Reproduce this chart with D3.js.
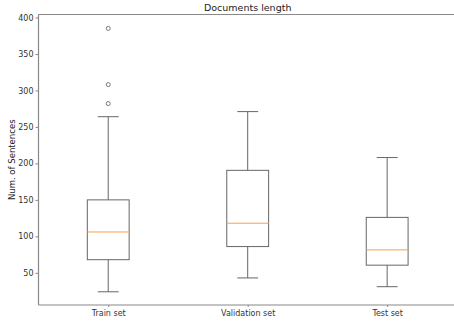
<!DOCTYPE html>
<html lang="en">
<head>
<meta charset="utf-8">
<title>Documents length</title>
<script src="https://d3js.org/d3.v7.min.js"></script>
<style>
  body { margin: 0; background: #fff; }
  text { font-family: "DejaVu Sans", sans-serif; }
  .tick text { fill: #333; font-size: 8px; }
  .tick line { stroke: #888; }
</style>
</head>
<body>
<div id="vis"></div>
<script>
// data
const sets = ["Train set", "Validation set", "Test set"];
const whiskerLow = [24, 43, 31];
const q1 = [68, 86, 60.5];
const median = [106, 118, 81.5];
const q3 = [150, 190.5, 126];
const whiskerHigh = [264, 271, 208];
const outliers = [[282, 308, 385], [], []];
const yTicks = [50, 100, 150, 200, 250, 300, 350, 400];

const width = 454, height = 322;
const plotLeft = 38.5, plotTop = 14.5, plotBottom = 305;

const boxes = sets.map((s, i) => ({
  name: s, pos: i + 1,
  lo: whiskerLow[i], q1: q1[i], med: median[i], q3: q3[i], hi: whiskerHigh[i],
  out: outliers[i]
}));

const x = d3.scaleLinear().domain([0.5, 3.5]).range([plotLeft, 456.9]);
const y = d3.scaleLinear().domain([5.9, 404.1]).range([plotBottom, plotTop]);

const svg = d3.select("#vis").append("svg")
  .attr("width", width).attr("height", height);

const boxW = x(1.15) - x(0.85);
const capW = boxW / 2;
const lineCol = "#666";

const g = svg.selectAll(".box").data(boxes).enter().append("g").attr("class", "box");

// whiskers
g.append("line")
  .attr("x1", d => x(d.pos)).attr("x2", d => x(d.pos))
  .attr("y1", d => y(d.lo)).attr("y2", d => y(d.q1))
  .attr("stroke", lineCol);
g.append("line")
  .attr("x1", d => x(d.pos)).attr("x2", d => x(d.pos))
  .attr("y1", d => y(d.q3)).attr("y2", d => y(d.hi))
  .attr("stroke", lineCol);
// caps
g.append("line")
  .attr("x1", d => x(d.pos) - capW / 2).attr("x2", d => x(d.pos) + capW / 2)
  .attr("y1", d => y(d.lo)).attr("y2", d => y(d.lo))
  .attr("stroke", lineCol);
g.append("line")
  .attr("x1", d => x(d.pos) - capW / 2).attr("x2", d => x(d.pos) + capW / 2)
  .attr("y1", d => y(d.hi)).attr("y2", d => y(d.hi))
  .attr("stroke", lineCol);
// box
g.append("rect")
  .attr("x", d => x(d.pos) - boxW / 2)
  .attr("y", d => y(d.q3))
  .attr("width", boxW)
  .attr("height", d => y(d.q1) - y(d.q3))
  .attr("fill", "none").attr("stroke", lineCol);
// median
g.append("line")
  .attr("x1", d => x(d.pos) - boxW / 2).attr("x2", d => x(d.pos) + boxW / 2)
  .attr("y1", d => y(d.med)).attr("y2", d => y(d.med))
  .attr("stroke", "#ff9f45");
// fliers
g.selectAll(".flier").data(d => d.out.map(v => ({ pos: d.pos, v: v }))).enter()
  .append("circle")
  .attr("cx", d => x(d.pos)).attr("cy", d => y(d.v))
  .attr("r", 2)
  .attr("fill", "none").attr("stroke", "#777");

// axes
const leftAxis = d3.axisLeft(y).tickValues(yTicks).tickSize(3).tickPadding(2);
const ay = svg.append("g").attr("transform", "translate(" + plotLeft + ",0)").call(leftAxis);
ay.select(".domain").remove();

const bottomAxis = d3.axisBottom(x).tickValues([1, 2, 3])
  .tickFormat((d, i) => sets[i]).tickSize(2).tickPadding(3);
const ax = svg.append("g").attr("transform", "translate(0," + plotBottom + ")").call(bottomAxis);
ax.select(".domain").remove();

// spines
svg.append("line").attr("x1", plotLeft).attr("x2", plotLeft).attr("y1", plotTop).attr("y2", plotBottom)
  .attr("stroke", "#888").attr("stroke-width", 1.2);
svg.append("line").attr("x1", plotLeft).attr("x2", width).attr("y1", plotBottom).attr("y2", plotBottom)
  .attr("stroke", "#888").attr("stroke-width", 1.2);
svg.append("line").attr("x1", plotLeft).attr("x2", width).attr("y1", plotTop).attr("y2", plotTop)
  .attr("stroke", "#888").attr("stroke-width", 1.2);

// title
svg.append("text")
  .attr("x", (plotLeft + 456.9) / 2).attr("y", 11)
  .attr("text-anchor", "middle")
  .attr("font-size", 9.5).attr("fill", "#222")
  .text("Documents length");

// y label
svg.append("text")
  .attr("transform", "translate(15," + ((plotTop + plotBottom) / 2) + ") rotate(-90)")
  .attr("text-anchor", "middle")
  .attr("font-size", 8.5).attr("fill", "#222")
  .text("Num. of Sentences");
</script>
</body>
</html>
